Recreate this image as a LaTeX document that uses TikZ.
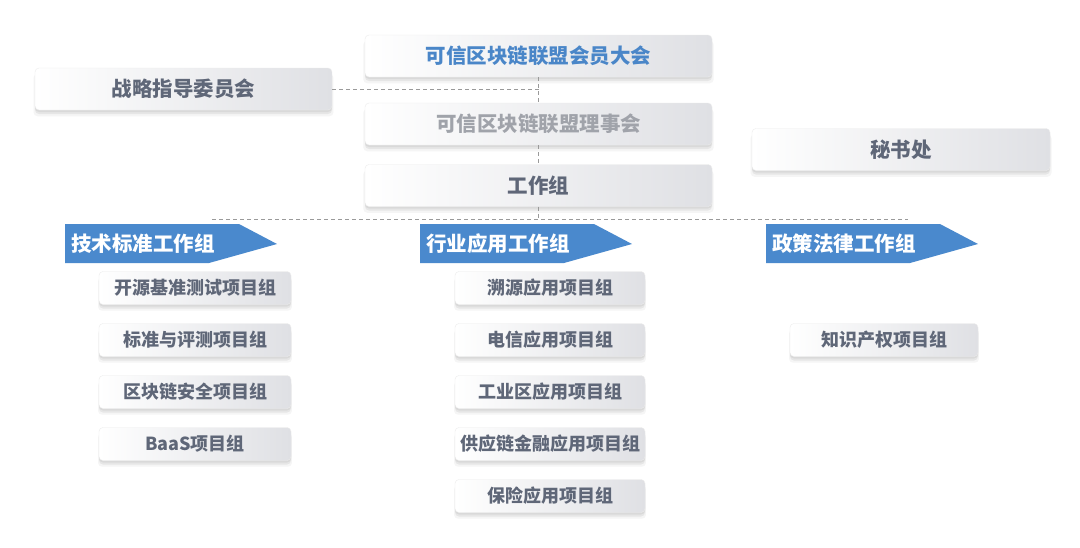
\documentclass[tikz,border=0pt]{standalone}
\usepackage{fontspec}
\setmainfont{Noto Sans CJK SC}
\usetikzlibrary{shadows,calc}
\definecolor{bannerblue}{HTML}{4A89CD}
\definecolor{titleblue}{HTML}{4A86C8}
\definecolor{txtgray}{HTML}{5F6778}
\definecolor{lightgray}{HTML}{A0A3AA}
\definecolor{boxright}{HTML}{DFE0E4}
\definecolor{dashgray}{HTML}{9A9A9A}
\tikzset{
  box/.style={rounded corners=4pt, left color=white, right color=boxright,
    draw=gray!15, line width=0.4pt, text=txtgray,
    drop shadow={opacity=0.12, shadow xshift=0pt, shadow yshift=-2pt},
    drop shadow={opacity=0.12, shadow xshift=0pt, shadow yshift=-4pt},
    drop shadow={opacity=0.08, shadow xshift=0pt, shadow yshift=-6pt, shadow scale=1.01},
    inner sep=0pt},
  bigbox/.style={box, minimum height=42pt, font=\bfseries\fontsize{20.5}{24}\selectfont},
  subbox/.style={box, minimum width=192pt, minimum height=33pt, font=\bfseries\fontsize{18}{22}\selectfont},
  link/.style={draw=dashgray, line width=0.9pt, dash pattern=on 4pt off 3pt},
  bannertxt/.style={anchor=west, text=white, inner sep=0pt, font=\bfseries\fontsize{20.5}{24}\selectfont},
  bannerfill/.style={fill=bannerblue},
}
\begin{document}
\begin{tikzpicture}[x=1pt,y=-1pt]
\useasboundingbox (0,0) rectangle (1080,547);
\fill[white] (0,0) rectangle (1080,547);

% top boxes
\node[bigbox, minimum width=347pt, text=titleblue] (hy) at (538.5,56) {可信区块链联盟会员大会};
\node[bigbox, minimum width=297pt] (zl) at (183.5,89) {战略指导委员会};
\node[bigbox, minimum width=347pt, text=lightgray] (lsh) at (538.5,124) {可信区块链联盟理事会};
\node[bigbox, minimum width=298pt] (msc) at (901,149.5) {秘书处};
\node[bigbox, minimum width=347pt] (gz) at (538.5,185.5) {工作组};

% connectors
\coordinate (hl) at (212,219);
\coordinate (hr) at (908,219);
\draw[link] (hy.south) -- (lsh.north);
\draw[link] (zl.east) -- (zl.east -| hy.south);
\draw[link] (lsh.south) -- (gz.north);
\draw[link] ($(lsh.south)!0.45!(gz.north)$) -- ($(lsh.south)!0.45!(gz.north)$ -| msc.west);
\draw[link] (gz.south) -- (gz.south |- hl);
\draw[link] (hl) -- (hr);

% banners
\foreach \bx/\name/\txt in {65/b1/技术标准工作组, 420/b2/行业应用工作组, 766/b3/政策法律工作组}{
  \fill[bannerfill] (\bx,224) -- ++(174,0) -- ++(38,20) -- ++(-68,19) -- (\bx,263) -- cycle;
  \node[bannertxt] (\name) at (\bx+6,244) {\txt};
}

% column 1
\node[subbox] (t1) at (195,288) {开源基准测试项目组};
\node[subbox] (t2) at (195,340) {标准与评测项目组};
\node[subbox] (t3) at (195,392) {区块链安全项目组};
\node[subbox] (t4) at (195,444) {BaaS项目组};

% column 2
\node[subbox, minimum width=190pt] (a1) at (550,288) {溯源应用项目组};
\node[subbox, minimum width=190pt] (a2) at (550,340) {电信应用项目组};
\node[subbox, minimum width=190pt] (a3) at (550,392) {工业区应用项目组};
\node[subbox, minimum width=190pt] (a4) at (550,444) {供应链金融应用项目组};
\node[subbox, minimum width=190pt] (a5) at (550,496) {保险应用项目组};

% column 3
\node[subbox, minimum width=188pt] (p1) at (884,340) {知识产权项目组};
\end{tikzpicture}
\end{document}
